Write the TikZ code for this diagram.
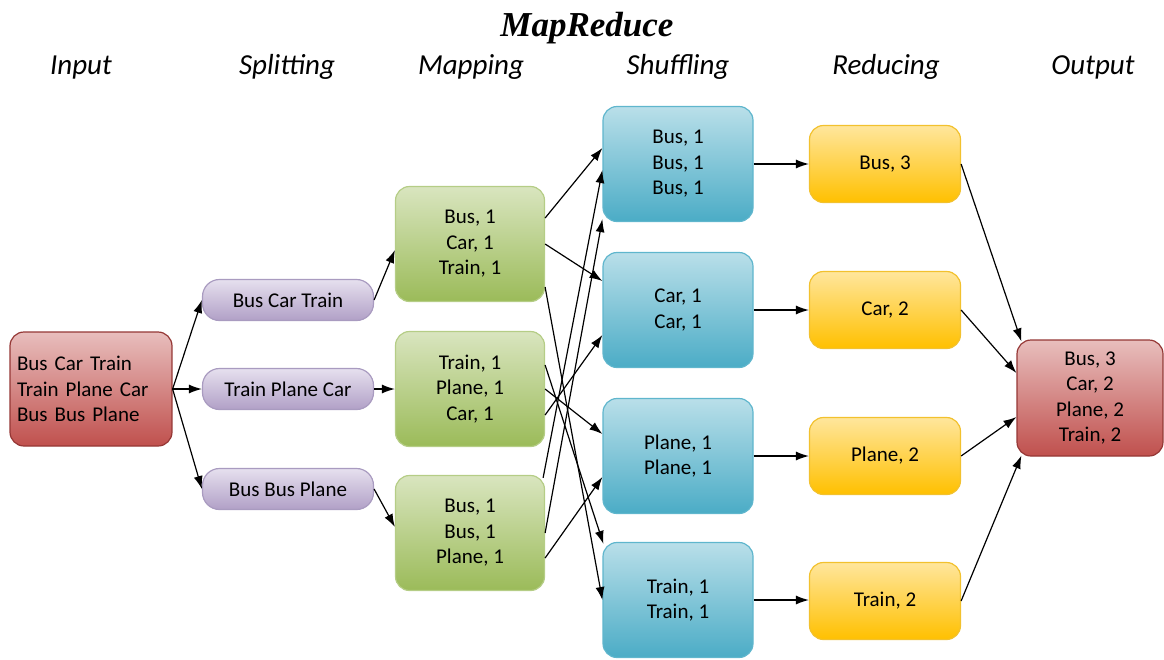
\documentclass[tikz,border=0pt]{standalone}
\usepackage{fontspec}
\setmainfont{Carlito}
\newfontfamily\titlefont{Liberation Serif}
\usetikzlibrary{arrows.meta}
\definecolor{inTop}{HTML}{E8BEBD}
\definecolor{inBot}{HTML}{C0504D}
\definecolor{inDraw}{HTML}{953735}
\definecolor{spTop}{HTML}{E6E0EE}
\definecolor{spBot}{HTML}{B1A0C7}
\definecolor{spDraw}{HTML}{A99BC0}
\definecolor{mpTop}{HTML}{D9E5BF}
\definecolor{mpBot}{HTML}{9BBB59}
\definecolor{mpDraw}{HTML}{B5CD86}
\definecolor{shTop}{HTML}{B9DFE9}
\definecolor{shBot}{HTML}{4BACC6}
\definecolor{shDraw}{HTML}{5FB6CD}
\definecolor{rdTop}{HTML}{FFE69C}
\definecolor{rdBot}{HTML}{FFC000}
\definecolor{rdDraw}{HTML}{F2C12E}
\tikzset{
  box/.style={draw, rounded corners=14pt, line width=1.2pt, inner sep=0pt, align=center,
    font=\fontsize{21}{25.5}\selectfont, text=black},
  inbox/.style={box, draw=inDraw, top color=inTop, bottom color=inBot,
    minimum width=162pt, minimum height=114pt},
  outbox/.style={box, draw=inDraw, top color=inTop, bottom color=inBot,
    minimum width=146pt, minimum height=116pt},
  splitbox/.style={box, rounded corners=17pt, draw=spDraw, top color=spTop, bottom color=spBot,
    minimum width=171pt, minimum height=41pt},
  mapbox/.style={box, draw=mpDraw, top color=mpTop, bottom color=mpBot,
    minimum width=149pt, minimum height=115pt},
  shufbox/.style={box, draw=shDraw, top color=shTop, bottom color=shBot,
    minimum width=150pt, minimum height=115pt},
  redbox/.style={box, draw=rdDraw, top color=rdTop, bottom color=rdBot,
    minimum width=151pt, minimum height=77pt},
  arr/.style={-{Latex[length=13pt,width=9pt]}, line width=1.2pt, black},
  hdr/.style={anchor=base, font=\fontsize{29}{34}\selectfont\itshape}
}
\begin{document}
\begin{tikzpicture}[x=1pt,y=-1pt]
\useasboundingbox (0,0) rectangle (1164,659);
% titles
\node[anchor=base, font=\fontsize{35}{40}\selectfont\titlefont\bfseries\itshape] (title) at (587,36) {MapReduce};
\node[hdr] (hIn) at (81,74) {Input};
\node[hdr] (hSp) at (287,74) {Splitting};
\node[hdr] (hMp) at (471,74) {Mapping};
\node[hdr] (hSh) at (678,74) {Shuffling};
\node[hdr] (hRd) at (886,74) {Reducing};
\node[hdr] (hOut) at (1093,74) {Output};
% nodes
\node[inbox, text width=148pt, align=left, inner xsep=7pt] (in) at (91,389) {Bus Car Train\\Train Plane Car\\Bus Bus Plane};
\node[splitbox] (sp1) at (288,300) {Bus Car Train};
\node[splitbox] (sp2) at (288,389) {Train Plane Car};
\node[splitbox] (sp3) at (288,489) {Bus Bus Plane};
\node[mapbox] (mp1) at (470,244) {Bus, 1\\Car, 1\\Train, 1};
\node[mapbox] (mp2) at (470,389) {Train, 1\\Plane, 1\\Car, 1};
\node[mapbox] (mp3) at (470,533) {Bus, 1\\Bus, 1\\Plane, 1};
\node[shufbox] (sh1) at (678,164) {Bus, 1\\Bus, 1\\Bus, 1};
\node[shufbox] (sh2) at (678,310) {Car, 1\\Car, 1};
\node[shufbox] (sh3) at (678,456) {Plane, 1\\Plane, 1};
\node[shufbox] (sh4) at (678,600) {Train, 1\\Train, 1};
\node[redbox] (rd1) at (885,164) {Bus, 3};
\node[redbox] (rd2) at (885,310) {Car, 2};
\node[redbox] (rd3) at (885,456) {Plane, 2};
\node[redbox] (rd4) at (885,601) {Train, 2};
\node[outbox] (out) at (1090,398) {Bus, 3\\Car, 2\\Plane, 2\\Train, 2};
% input -> split
\draw[arr] (in.east) -- (sp1.west);
\draw[arr] (in.east) -- (sp2.west);
\draw[arr] (in.east) -- (sp3.west);
% split -> map
\draw[arr] (sp1.east) -- ([yshift=-6pt]mp1.west);
\draw[arr] (sp2.east) -- (mp2.west);
\draw[arr] (sp3.east) -- ([yshift=6pt]mp3.west);
% map -> shuffle
\draw[arr] ([yshift=26pt]mp1.east) -- ([yshift=16pt]sh1.west);
\draw[arr] (mp1.east) -- ([yshift=29pt]sh2.west);
\draw[arr] ([yshift=-43pt]mp1.east) -- (sh4.west);
\draw[arr] ([yshift=24pt]mp2.east) -- ([xshift=1pt,yshift=-2pt]sh4.north west);
\draw[arr] (mp2.east) -- ([yshift=22pt]sh3.west);
\draw[arr] ([yshift=-26pt]mp2.east) -- ([yshift=-25pt]sh2.west);
\draw[arr] ([xshift=-2pt,yshift=-3pt]mp3.north east) -- ([yshift=-6pt]sh1.west);
\draw[arr] (mp3.east) -- ([yshift=3pt]sh1.south west);
\draw[arr] ([yshift=-25pt]mp3.east) -- ([yshift=-21pt]sh3.west);
% shuffle -> reduce
\draw[arr] (sh1.east) -- (rd1.west);
\draw[arr] (sh2.east) -- (rd2.west);
\draw[arr] (sh3.east) -- (rd3.west);
\draw[arr] (sh4.east) -- (sh4.east -| rd4.west);
% reduce -> output
\draw[arr] (rd1.east) -- ([xshift=5pt,yshift=-2pt]out.north west);
\draw[arr] (rd2.east) -- ([yshift=25pt]out.west);
\draw[arr] (rd3.east) -- ([yshift=-19pt]out.west);
\draw[arr] (rd4.east) -- ([xshift=5pt,yshift=1pt]out.south west);
\end{tikzpicture}
\end{document}
